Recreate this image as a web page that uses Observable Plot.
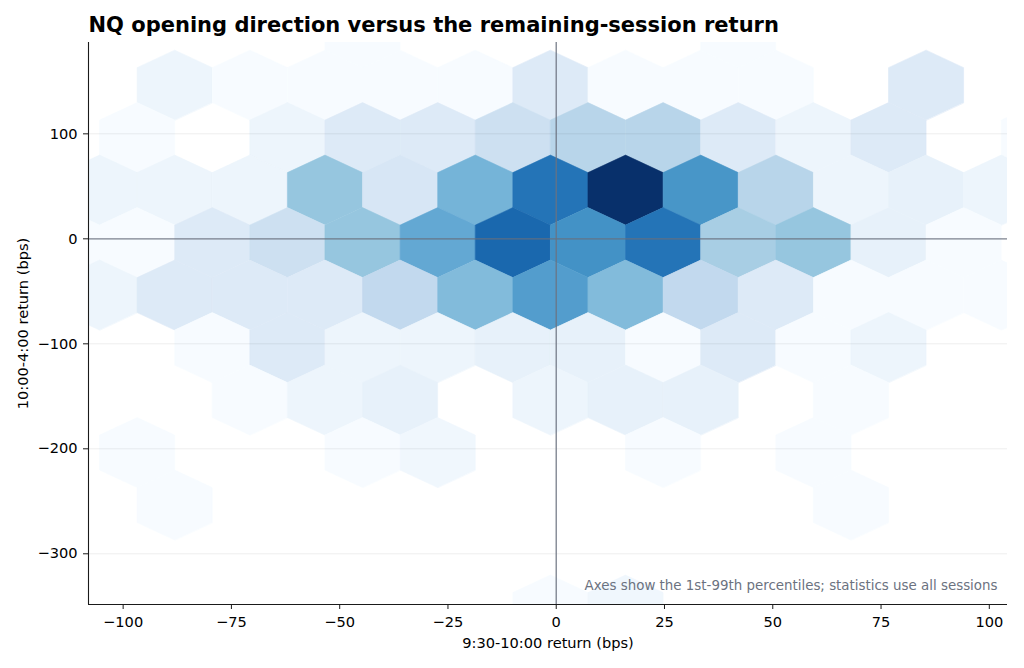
<!DOCTYPE html>
<html>
<head>
<meta charset="utf-8">
<script src="https://cdn.jsdelivr.net/npm/d3@7"></script>
<script src="https://cdn.jsdelivr.net/npm/@observablehq/plot@0.6"></script>
<style>
  html, body { margin: 0; padding: 0; background: #fff; }
  #chart { width: 1024px; height: 668px; }
</style>
</head>
<body>
<div id="chart"></div>
<script>
// ---- text ----
const title = "NQ opening direction versus the remaining-session return";
const xLabel = "9:30-10:00 return (bps)";
const yLabel = "10:00-4:00 return (bps)";
const note = "Axes show the 1st-99th percentiles; statistics use all sessions";

// ---- axes ----
const xDomain = [-108, 104.2];
const yDomain = [-348.3, 187];
const xTicks = [-100, -75, -50, -25, 0, 25, 50, 75, 100];
const yTicks = [-300, -200, -100, 0, 100];

// ---- hexbin grid (bps) ----
const binWidth = 17.35;  // hexagon width along x
const binPitchY = 100;   // grid step along y (hexagon height = 2/3 of it, rows every half step)
const rowCentres = [196.4, 146.4, 96.4, 46.4, -3.6, -53.6, -103.6, -153.6, -203.6, -253.6, -303.6, -353.6];
const colsEven = [-114.125, -96.775, -79.425, -62.075, -44.725, -27.375, -10.025, 7.325, 24.675, 42.025, 59.375, 76.725, 94.075, 111.425];
const colsOdd = [-105.45, -88.1, -70.75, -53.4, -36.05, -18.7, -1.35, 16.0, 33.35, 50.7, 68.05, 85.4, 102.75];

// session counts per hexagon, rows top to bottom (even rows -> colsEven, odd rows -> colsOdd)
const counts = [
  [0, 0, 0, 0, 1, 0, 0, 0, 0, 1, 0, 0, 0, 0],
  [0, 4, 1, 1, 1, 1, 9, 1, 1, 1, 0, 9, 0],
  [0, 1, 0, 4, 9, 9, 14, 19, 19, 9, 4, 9, 0, 1],
  [4, 4, 4, 25, 11, 30, 46, 62, 38, 19, 4, 6, 4],
  [1, 1, 9, 14, 25, 33, 49, 39, 46, 22, 25, 6, 1, 0],
  [4, 9, 9, 9, 17, 28, 36, 28, 17, 9, 1, 1, 1],
  [0, 0, 1, 9, 4, 4, 6, 6, 1, 9, 1, 4, 0, 0],
  [0, 0, 1, 4, 6, 0, 4, 6, 6, 0, 1, 0, 0],
  [0, 1, 0, 0, 1, 3, 0, 0, 1, 0, 1, 0, 0, 0],
  [0, 1, 0, 0, 0, 0, 0, 0, 0, 0, 1, 0, 0],
  [0, 0, 0, 0, 0, 0, 0, 0, 0, 0, 0, 0, 0, 0],
  [0, 0, 0, 0, 0, 0, 1, 3, 0, 0, 0, 0, 0]
];

const BLUES = ["#f7fbff", "#deebf7", "#c6dbef", "#9ecae1", "#6baed6", "#4292c6", "#2171b5", "#08519c", "#08306b"];

// build hexagons (matplotlib-style hexbin polygons in data space)
const hexes = [];
counts.forEach((row, i) => {
  const cols = i % 2 === 0 ? colsEven : colsOdd;
  row.forEach((n, j) => {
    if (n > 0) hexes.push({id: hexes.length, cx: cols[j], cy: rowCentres[i], n});
  });
});
const corners = [[0.5, -1/6], [0.5, 1/6], [0, 1/3], [-0.5, 1/6], [-0.5, -1/6], [0, -1/3]];
const vertices = hexes.flatMap(h => corners.map(([u, v]) => ({
  id: h.id, n: h.n, x: h.cx + u * binWidth, y: h.cy + v * binPitchY
})));

const FS = 14.6;
const chart = Plot.plot({
  width: 1024,
  height: 668,
  marginLeft: 88,
  marginRight: 17,
  marginTop: 42,
  marginBottom: 64,
  style: {fontFamily: "'DejaVu Sans', sans-serif", background: "#fff", color: "#000"},
  x: {domain: xDomain},
  y: {domain: yDomain},
  color: {type: "linear", domain: [1, d3.max(hexes, d => d.n)], interpolate: d3.piecewise(d3.interpolateRgb, BLUES)},
  marks: [
    Plot.line(vertices, {x: "x", y: "y", z: "id", fill: "n", stroke: "n", strokeWidth: 0.6, curve: "linear-closed", clip: true}),
    Plot.gridY(yTicks, {stroke: "#000", strokeOpacity: 0.09, strokeWidth: 0.8}),
    Plot.ruleX([0], {stroke: "#6b7280", strokeWidth: 1.4, strokeOpacity: 0.85}),
    Plot.ruleY([0], {stroke: "#6b7280", strokeWidth: 1.4, strokeOpacity: 0.85}),
    Plot.ruleX([xDomain[0]], {stroke: "#1a1a1a", strokeWidth: 1.1}),
    Plot.ruleY([yDomain[0]], {stroke: "#1a1a1a", strokeWidth: 1.1}),
    Plot.axisX(xTicks, {tickSize: 5, tickPadding: 7.5, fontSize: FS, label: null, stroke: "#1a1a1a"}),
    Plot.axisY(yTicks, {tickSize: 5, tickPadding: 6, fontSize: FS, label: null, stroke: "#1a1a1a"}),
    Plot.text([xLabel], {text: d => d, frameAnchor: "bottom", textAnchor: "middle", lineAnchor: "middle", dy: 38.7, fontSize: FS}),
    Plot.text([yLabel], {text: d => d, frameAnchor: "left", textAnchor: "middle", lineAnchor: "middle", dx: -65, rotate: -90, fontSize: FS}),
    Plot.text([note], {text: d => d, frameAnchor: "bottom-right", textAnchor: "end", lineAnchor: "middle", dx: -10, dy: -18.5, fill: "#6b7280", fontSize: 13.4}),
    Plot.text([title], {text: d => d, frameAnchor: "top-left", textAnchor: "start", lineAnchor: "middle", dy: -17.5, fontSize: 21, fontWeight: "bold"})
  ]
});
document.getElementById("chart").appendChild(chart);
</script>
</body>
</html>
